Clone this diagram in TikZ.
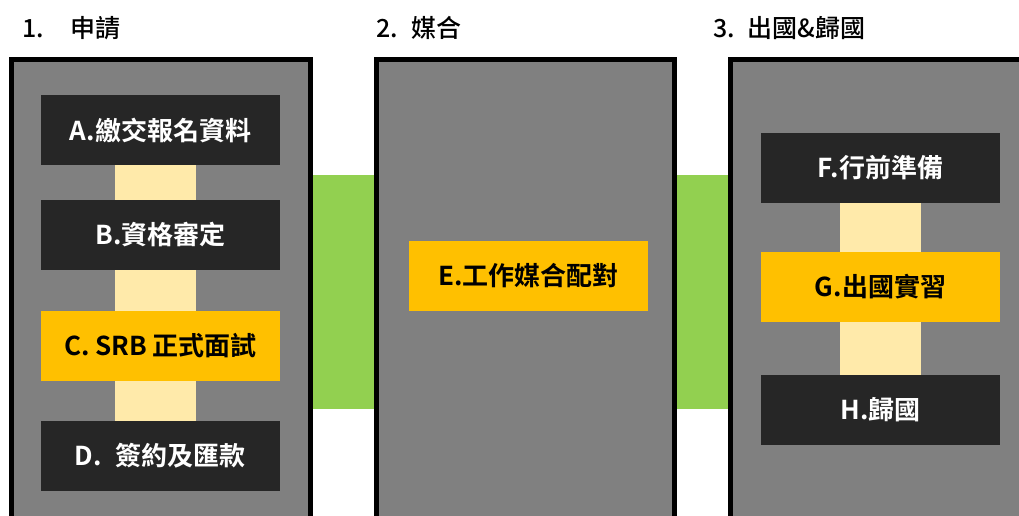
\documentclass[tikz,border=0pt]{standalone}
\usepackage{fontspec}
\setmainfont{Noto Sans CJK TC}[BoldFont={Noto Sans CJK TC Bold}]
\newfontfamily\titlefont{Noto Sans CJK TC Medium}
\usetikzlibrary{backgrounds}
\definecolor{panelgray}{HTML}{808080}
\definecolor{darkbox}{HTML}{262626}
\definecolor{gold}{HTML}{FFC000}
\definecolor{cream}{HTML}{FFEAAA}
\definecolor{bandgreen}{HTML}{92D050}

\begin{document}
\begin{tikzpicture}[x=1pt,y=-1pt,
   panel/.style={draw=black,line width=5pt,fill=panelgray,anchor=north west,
                 inner sep=0pt,outer sep=0pt,minimum height=480pt},
   stepbox/.style={fill=darkbox,text=white,font=\bfseries\fontsize{26}{30}\selectfont,
                   minimum width=239pt,minimum height=70pt,inner sep=0pt,outer sep=0pt},
   hotbox/.style={stepbox,fill=gold,text=black},
   link/.style={fill=cream},
   band/.style={fill=bandgreen},
   title/.style={anchor=west,inner sep=0pt,font=\titlefont\fontsize{25}{29}\selectfont}]
   % Page frame
   \useasboundingbox (0,0) rectangle (1019,515);
   \clip (0,0) rectangle (1019,515);
   % Titles
   \node [title] (t1) at (22,28)  {1.\hspace{27pt}申請};
   \node [title] (t2) at (376,28) {2.\hspace{14pt}媒合};
   \node [title] (t3) at (713,28) {3.\hspace{13pt}出國\&歸國};
   % Panels
   \node [panel,minimum width=299pt] (p1) at (11.5,59.5)  {};
   \node [panel,minimum width=298pt] (p2) at (376.5,59.5) {};
   \node [panel,minimum width=320pt] (p3) at (730.5,59.5) {};
   % Green bands between panels (below the panels)
   \begin{scope}[on background layer]
      \fill [band] (p1.east |- 0,175) rectangle (p2.west |- 0,409);
      \fill [band] (p2.east |- 0,175) rectangle (p3.west |- 0,409);
   \end{scope}
   % Steps: apply
   \node [stepbox] (a) at (160.5,130) {A.繳交報名資料};
   \node [stepbox] (b) at (160.5,235) {B.資格審定};
   \node [hotbox]  (c) at (160.5,346) {C. SRB 正式面試};
   \node [stepbox] (d) at (160.5,456) {D.\hspace{14pt}簽約及匯款};
   \fill [link] ([xshift=-45.5pt]a.south) rectangle ([xshift=35.5pt]b.north);
   \fill [link] ([xshift=-45.5pt]b.south) rectangle ([xshift=35.5pt]c.north);
   \fill [link] ([xshift=-45.5pt]c.south) rectangle ([xshift=35.5pt]d.north);
   % Steps: matching
   \node [hotbox]  (e) at (528.5,276) {E.工作媒合配對};
   % Steps: abroad and back
   \node [stepbox] (f) at (880.5,168) {F.行前準備};
   \node [hotbox]  (g) at (880.5,287) {G.出國實習};
   \node [stepbox] (h) at (880.5,410) {H.歸國};
   \fill [link] ([xshift=-40.5pt]f.south) rectangle ([xshift=40.5pt]g.north);
   \fill [link] ([xshift=-40.5pt]g.south) rectangle ([xshift=40.5pt]h.north);
\end{tikzpicture}
\end{document}
